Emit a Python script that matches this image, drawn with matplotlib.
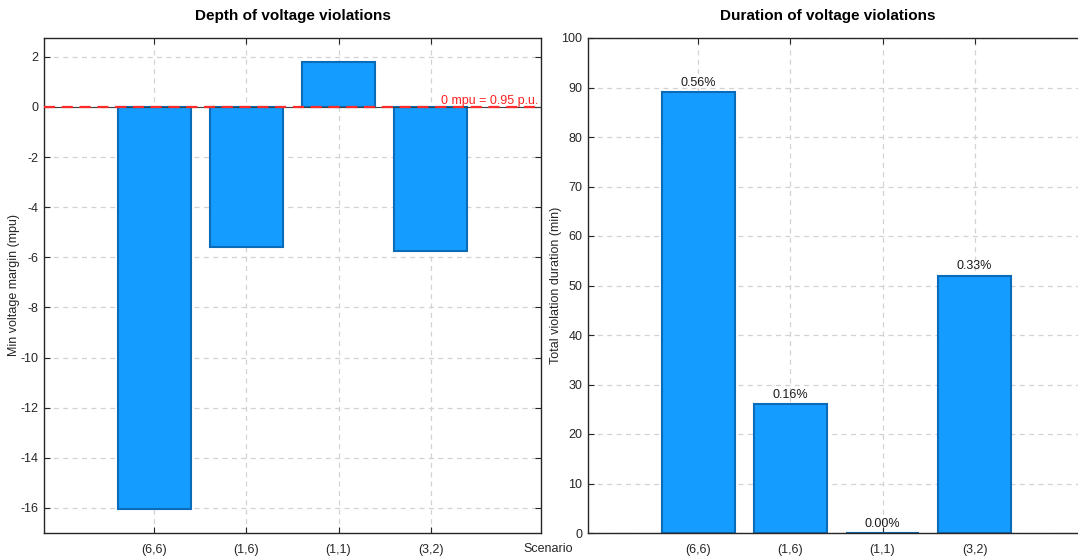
import numpy as np
import matplotlib
matplotlib.use("Agg")
import matplotlib.pyplot as plt

# Data
scenarios = ["(6,6)", "(1,6)", "(1,1)", "(3,2)"]
min_margin = [-16.05, -5.6, 1.8, -5.75]          # mpu
violation_min = [89.0, 26.0, 0.0, 52.0]          # minutes
violation_pct = ["0.56%", "0.16%", "0.00%", "0.33%"]

BAR_FACE = "#149dff"
BAR_EDGE = "#0a6cb8"
SPINE = "#262626"
GRID = "#d2d2d2"

plt.rcParams["font.family"] = ["Liberation Sans", "DejaVu Sans"]
plt.rcParams["font.size"] = 9
plt.rcParams["axes.unicode_minus"] = False

fig = plt.figure(figsize=(10.78, 5.58), dpi=100)
W, H = 1078.0, 558.0
ax1 = fig.add_axes([44 / W, (H - 533) / H, 497 / W, 495 / H])
ax2 = fig.add_axes([588 / W, (H - 533) / H, 497 / W, 495 / H])

x = np.arange(1, len(scenarios) + 1)


def style_axes(ax):
    for s in ax.spines.values():
        s.set_color(SPINE)
        s.set_linewidth(1.0)
    ax.tick_params(direction="in", top=True, right=True, length=4,
                   color=SPINE, labelcolor="#262626", labelsize=9, pad=4)
    ax.tick_params(axis="x", pad=8)
    ax.set_xticks(x)
    ax.set_xticklabels(scenarios)
    ax.set_xlim(-0.2, 5.2)
    ax.grid(True, color=GRID, linestyle=(0, (4, 3.5)), linewidth=0.9)
    ax.set_axisbelow(True)


# Left: depth of violations
style_axes(ax1)
ax1.bar(x, min_margin, width=0.8, color=BAR_FACE, edgecolor=BAR_EDGE,
        linewidth=1.5, zorder=2)
ax1.axhline(0, color="#404040", linewidth=0.8, zorder=3)
ax1.axhline(0, color="#ff2a2a", linestyle=(0, (5, 3)), linewidth=1.6, zorder=4)
ax1.text(0.995, 0.0, "0 mpu = 0.95 p.u.", transform=ax1.get_yaxis_transform(),
         ha="right", va="bottom", color="#ff2020", fontsize=9)
ax1.set_ylim(-17, 2.75)
ax1.set_yticks(np.arange(-16, 3, 2))
ax1.set_ylabel("Min voltage margin (mpu)", fontsize=9, color="#262626")
ax1.yaxis.set_label_coords((14 - 44) / 497, 0.5)
ax1.yaxis.label.set_va("center")
ax1.set_title("Depth of voltage violations", fontsize=11, fontweight="bold", pad=13)
ax1.set_xlabel("Scenario", fontsize=9, color="#262626")
ax1.xaxis.set_label_coords((548 - 44) / 497, -16 / 495)
ax1.xaxis.label.set_va("center")

# Right: duration of violations
style_axes(ax2)
bars = ax2.bar(x, violation_min, width=0.8, color=BAR_FACE, edgecolor=BAR_EDGE,
               linewidth=1.5, zorder=2)
for b, lab in zip(bars, violation_pct):
    ax2.annotate(lab, (b.get_x() + b.get_width() / 2, b.get_height()),
                 xytext=(0, 2.5), textcoords="offset points",
                 ha="center", va="bottom", fontsize=9, color="#1a1a1a")
ax2.set_ylim(0, 100)
ax2.set_yticks(np.arange(0, 101, 10))
ax2.set_ylabel("Total violation duration (min)", fontsize=9, color="#262626")
ax2.yaxis.set_label_coords((556 - 588) / 497, 0.5)
ax2.yaxis.label.set_va("center")
ax2.set_title("Duration of voltage violations", fontsize=11, fontweight="bold",
              pad=13, x=(828 - 588) / 497)

fig.savefig("out.png", dpi=100)
